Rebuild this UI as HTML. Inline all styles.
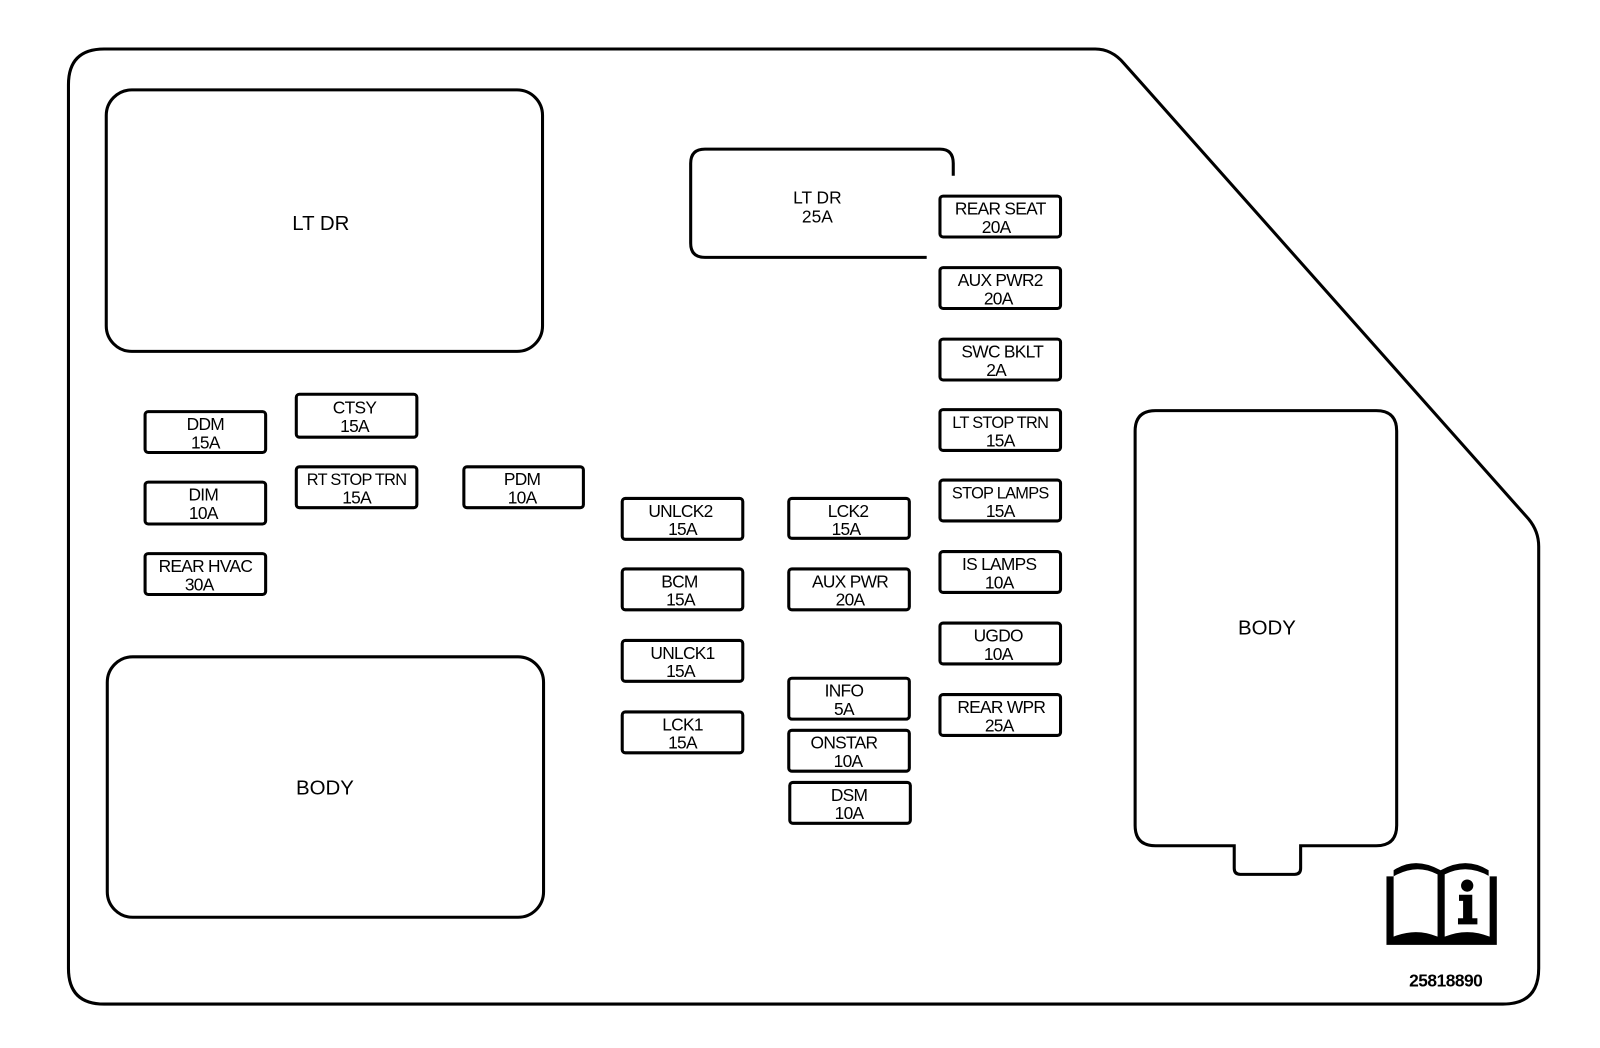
<!DOCTYPE html>
<html><head><meta charset="utf-8"><style>
html,body{margin:0;padding:0;background:#fff;}
svg{display:block}
text{font-family:"Liberation Sans",sans-serif;font-size:17px;text-anchor:middle;fill:#000;}
.f rect{fill:#fff;stroke:#000;stroke-width:3;}
.f text{font-size:17px;letter-spacing:-0.7px}
</style></head><body>
<svg width="1600" height="1048" viewBox="0 0 1566 1026" preserveAspectRatio="none">
<g fill="none" stroke="#000" stroke-width="3">
<path d="M102,48 H1072 Q1088,48 1100,62 L1496,508 Q1506,520 1506,535 V948 Q1506,983 1471,983 H102 Q67,983 67,948 V83 Q67,48 102,48 Z"/>
<rect x="104" y="88" width="427" height="256" rx="25"/>
<rect x="105" y="643" width="427" height="255" rx="25"/>
<path d="M907,252 H690 Q676,252 676,238 V160 Q676,146 690,146 H920 Q933,146 933,160 V172"/>
<path d="M1208,828 H1131 Q1111,828 1111,808 V422 Q1111,402 1131,402 H1347 Q1367,402 1367,422 V808 Q1367,828 1347,828 H1273 V850 Q1273,856 1267,856 H1214 Q1208,856 1208,850 Z"/>
</g>
<text x="314" y="225" style="font-size:20px">LT DR</text>
<text x="318" y="778" style="font-size:20px">BODY</text>
<text x="1240" y="621" style="font-size:20px">BODY</text>
<text x="800" y="199">LT DR</text>
<text x="800" y="218">25A</text>
<g class="f">
<g transform="translate(142,403)"><rect width="118" height="40" rx="3"/><text x="59" y="18">DDM</text><text x="59" y="36">15A</text></g>
<g transform="translate(290,386)"><rect width="118" height="42" rx="3"/><text x="57" y="19">CTSY</text><text x="57" y="37">15A</text></g>
<g transform="translate(142,472)"><rect width="118" height="41" rx="3"/><text x="57" y="18">DIM</text><text x="57" y="36">10A</text></g>
<g transform="translate(290,457)"><rect width="118" height="40" rx="3"/><text x="59" y="18" style="font-size:16px">RT STOP TRN</text><text x="59" y="36">15A</text></g>
<g transform="translate(454,457)"><rect width="117" height="40" rx="3"/><text x="57" y="18">PDM</text><text x="57" y="36">10A</text></g>
<g transform="translate(142,542)"><rect width="118" height="40" rx="3"/><text x="59" y="18">REAR HVAC</text><text x="53" y="36">30A</text></g>
<g transform="translate(609,488)"><rect width="118" height="40" rx="3"/><text x="57" y="18">UNLCK2</text><text x="59" y="36">15A</text></g>
<g transform="translate(609,557)"><rect width="118" height="40" rx="3"/><text x="56" y="18">BCM</text><text x="57" y="36">15A</text></g>
<g transform="translate(609,627)"><rect width="118" height="40" rx="3"/><text x="59" y="18">UNLCK1</text><text x="57" y="36">15A</text></g>
<g transform="translate(609,697)"><rect width="118" height="40" rx="3"/><text x="59" y="18">LCK1</text><text x="59" y="36">15A</text></g>
<g transform="translate(772,488)"><rect width="118" height="39" rx="3"/><text x="58" y="18">LCK2</text><text x="56" y="36">15A</text></g>
<g transform="translate(772,557)"><rect width="118" height="40" rx="3"/><text x="60" y="18">AUX PWR</text><text x="60" y="36">20A</text></g>
<g transform="translate(772,664)"><rect width="118" height="40" rx="3"/><text x="54" y="18">INFO</text><text x="54" y="36">5A</text></g>
<g transform="translate(772,715)"><rect width="118" height="40" rx="3"/><text x="54" y="18">ONSTAR</text><text x="58" y="36">10A</text></g>
<g transform="translate(773,766)"><rect width="118" height="40" rx="3"/><text x="58" y="18">DSM</text><text x="58" y="36">10A</text></g>
<g transform="translate(920,192)"><rect width="118" height="40" rx="3"/><text x="59" y="18">REAR SEAT</text><text x="55" y="36">20A</text></g>
<g transform="translate(920,262)"><rect width="118" height="40" rx="3"/><text x="59" y="18">AUX PWR2</text><text x="57" y="36">20A</text></g>
<g transform="translate(920,332)"><rect width="118" height="40" rx="3"/><text x="61" y="18">SWC BKLT</text><text x="55" y="36">2A</text></g>
<g transform="translate(920,401)"><rect width="118" height="40" rx="3"/><text x="59" y="18" style="font-size:16px">LT STOP TRN</text><text x="59" y="36">15A</text></g>
<g transform="translate(920,470)"><rect width="118" height="40" rx="3"/><text x="59" y="18" style="font-size:16px">STOP LAMPS</text><text x="59" y="36">15A</text></g>
<g transform="translate(920,540)"><rect width="118" height="40" rx="3"/><text x="58" y="18">IS LAMPS</text><text x="58" y="36">10A</text></g>
<g transform="translate(920,610)"><rect width="118" height="40" rx="3"/><text x="57" y="18">UGDO</text><text x="57" y="36">10A</text></g>
<g transform="translate(920,680)"><rect width="118" height="40" rx="3"/><text x="60" y="18">REAR WPR</text><text x="58" y="36">25A</text></g>
</g>
<g>
<path d="M1357,858 H1364 V852 Q1385,838 1410,852 Q1435,838 1457,852 V858 H1465 V925 H1357 Z" fill="#000"/>
<path d="M1364,858 Q1386,845 1407,856 V917 Q1386,908 1364,917 Z" fill="#fff"/>
<path d="M1414,856 Q1436,845 1458,858 V917 Q1436,908 1414,917 Z" fill="#fff"/>
<circle cx="1436" cy="867" r="6" fill="#000"/>
<path d="M1428,876 H1441 V899 H1446 V905 H1427 V899 H1432 V882 H1428 Z" fill="#000"/>
</g>
<text x="1415" y="966" style="font-weight:bold;font-size:17px;letter-spacing:-0.5px">25818890</text>
</svg>
</body></html>
